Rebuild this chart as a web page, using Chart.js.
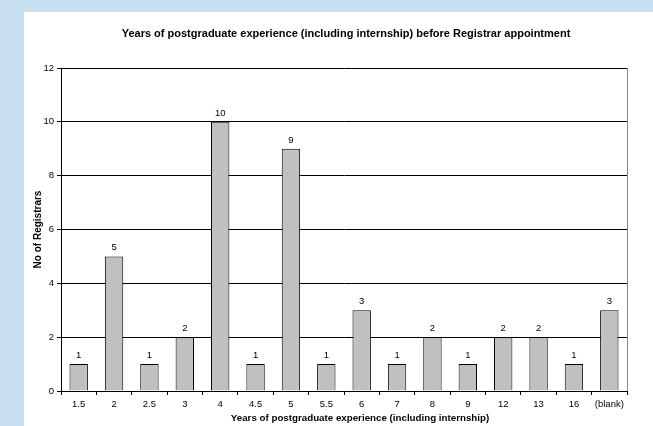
<!DOCTYPE html>
<html>
<head>
<meta charset="utf-8">
<script src="https://cdn.jsdelivr.net/npm/chart.js@4"></script>
<style>
  html, body { margin: 0; padding: 0; }
  body { width: 653px; height: 426px; background: #c9dff2; position: relative; overflow: hidden; }
  #panel { position: absolute; left: 24px; top: 12px; width: 629px; height: 414px; background: #fff; }
</style>
</head>
<body>
<div id="panel"><canvas id="chart" width="629" height="414"></canvas></div>
<script>
// カテゴリ（経験年数）
const years = ["1.5", "2", "2.5", "3", "4", "4.5", "5", "5.5", "6", "7", "8", "9", "12", "13", "16", "(blank)"];
// レジストラ数
const registrars = [1, 5, 1, 2, 10, 1, 9, 1, 3, 1, 2, 1, 2, 2, 1, 3];
// Y軸の目盛り
const yTicks = [0, 2, 4, 6, 8, 10, 12];

const chartTitle = "Years of postgraduate experience (including internship) before Registrar appointment";
const xTitle = "Years of postgraduate experience (including internship)";
const yTitle = "No of Registrars";

const font = "Arial, 'Liberation Sans', sans-serif";

// 棒の上に値を表示
const valueLabels = {
    id: "valueLabels",
    afterDatasetsDraw(chart) {
        const ctx = chart.ctx;
        ctx.save();
        ctx.font = "9.5px " + font;
        ctx.fillStyle = "#000";
        ctx.textAlign = "center";
        ctx.textBaseline = "bottom";
        chart.getDatasetMeta(0).data.forEach((bar, i) => {
            ctx.fillText(registrars[i], bar.x, bar.y - 4);
        });
        ctx.restore();
    },
};

// タイトルとX軸タイトル、右側の枠線（灰色）
const frameAndTitles = {
    id: "frameAndTitles",
    afterDraw(chart) {
        const { ctx, chartArea } = chart;
        const mid = (chartArea.left + chartArea.right) / 2;
        ctx.save();
        ctx.strokeStyle = "#888";
        ctx.lineWidth = 1;
        ctx.beginPath();
        ctx.moveTo(Math.round(chartArea.right) + 0.5, chartArea.top);
        ctx.lineTo(Math.round(chartArea.right) + 0.5, chartArea.bottom);
        ctx.stroke();

        ctx.fillStyle = "#000";
        ctx.textAlign = "center";
        ctx.textBaseline = "middle";
        ctx.font = "bold 11px " + font;
        ctx.fillText(chartTitle, mid + 2, 22);
        ctx.font = "bold 9.75px " + font;
        ctx.fillText(xTitle, mid + 16, chartArea.bottom + 27);
        ctx.restore();
    },
};

new Chart(document.getElementById("chart").getContext("2d"), {
    type: "bar",
    data: {
        labels: years,
        datasets: [{
            data: registrars,
            backgroundColor: "#c0c0c0",
            borderColor: "#000",
            borderWidth: 1,
            categoryPercentage: 1,
            barPercentage: 0.52,
        }],
    },
    options: {
        responsive: false,
        animation: false,
        layout: { padding: { left: 0, right: 26, top: 56, bottom: 0 } },
        plugins: {
            legend: { display: false },
            tooltip: { enabled: false },
            title: { display: false },
        },
        scales: {
            x: {
                grid: { offset: true, drawOnChartArea: false, drawTicks: true, tickLength: 4, color: "#000" },
                border: { color: "#000" },
                ticks: { color: "#000", font: { family: font, size: 9.5 }, padding: 4, maxRotation: 0 },
                afterFit(scale) { scale.height = 35; },
            },
            y: {
                min: 0,
                max: 12,
                afterBuildTicks(scale) { scale.ticks = yTicks.map(v => ({ value: v })); },
                grid: { color: "#000", tickLength: 4 },
                border: { color: "#000" },
                ticks: { color: "#000", font: { family: font, size: 9.5 }, padding: 3 },
                title: {
                    display: true,
                    text: yTitle,
                    color: "#000",
                    font: { family: font, size: 10, weight: "bold" },
                    padding: { top: 8, bottom: 0 },
                },
                afterFit(scale) { scale.width = 37; },
            },
        },
    },
    plugins: [valueLabels, frameAndTitles],
});
</script>
</body>
</html>
